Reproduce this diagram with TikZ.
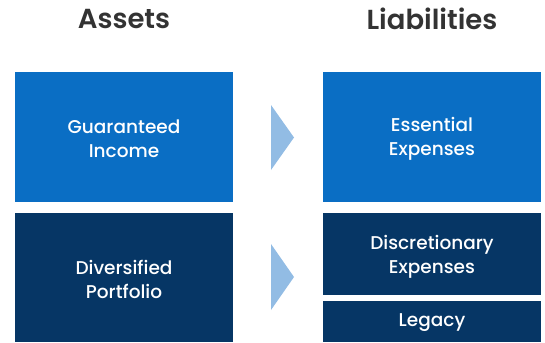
\documentclass[tikz,border=0pt]{standalone}
\usepackage{fontspec}
\setmainfont{Poppins}
\newfontfamily\titlefont{Poppins}[UprightFont={* SemiBold}]
\newfontfamily\boxfont{Poppins}[UprightFont={* Medium}]
\definecolor{topblue}{HTML}{0A6EC4}
\definecolor{navy}{HTML}{063665}
\definecolor{arrowblue}{HTML}{92BCE4}
\definecolor{titlegray}{HTML}{333333}
\tikzset{
  box/.style={fill=#1, draw=none},
  boxtext/.style={text=white, font=\boxfont\fontsize{18.5}{24}\selectfont, align=center},
  title/.style={text=titlegray, font=\titlefont\fontsize{27.5}{30}\selectfont},
  tri/.style={fill=arrowblue, draw=none}
}
\begin{document}
\begin{tikzpicture}[x=1pt,y=-1pt]
\useasboundingbox (0,0) rectangle (545,342);
% boxes
\fill[box=topblue] (15,72) rectangle (233,202);
\fill[box=navy] (15,213) rectangle (233,342);
\fill[box=topblue] (323,72) rectangle (541,202);
\fill[box=navy] (323,213) rectangle (541,295);
\fill[box=navy] (323,301) rectangle (541,342);
% arrows
\fill[tri] (271,105) -- (294,137.5) -- (271,170) -- cycle;
\fill[tri] (271,244) -- (294,277) -- (271,310) -- cycle;
% titles
\node[title] (tA) at (124,19) {Assets};
\node[title] (tL) at (432,19) {Liabilities};
% texts
\node[boxtext] (gi) at (124,138.5) {Guaranteed\\Income};
\node[boxtext] (dp) at (124,279.5) {Diversified\\Portfolio};
\node[boxtext] (ee) at (432,138.5) {Essential\\Expenses};
\node[boxtext] (de) at (432,256.5) {Discretionary\\Expenses};
\node[boxtext] (lg) at (432,323) {Legacy};
\end{tikzpicture}
\end{document}
